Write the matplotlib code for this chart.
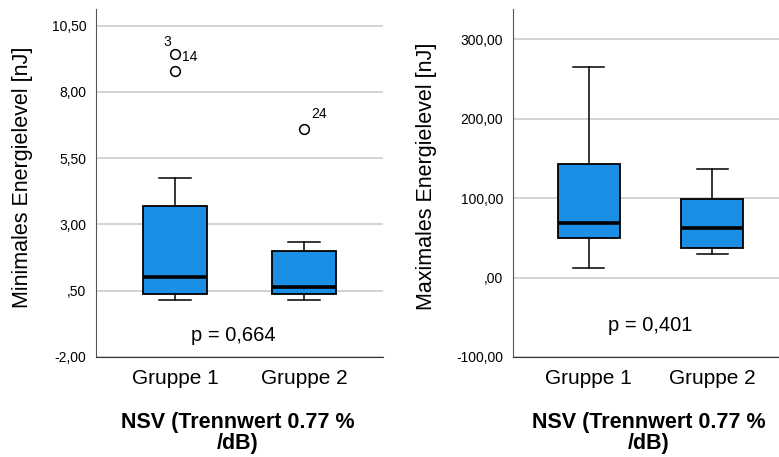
import matplotlib
matplotlib.use("Agg")
import matplotlib.pyplot as plt
from matplotlib.ticker import FixedLocator, FuncFormatter

plt.rcParams['font.family'] = ['Liberation Sans', 'DejaVu Sans']

groups = ["Gruppe 1", "Gruppe 2"]

# Minimales Energielevel [nJ]
min_whislo = [0.14, 0.14]
min_q1 = [0.37, 0.38]
min_med = [1.03, 0.65]
min_q3 = [3.70, 2.00]
min_whishi = [4.74, 2.33]
min_fliers = [[9.43, 8.78], [6.60]]
min_flier_labels = [[("3", -2.5, 9), ("14", 5, -2)], [("24", 5.5, 10.5)]]
min_ticks = [-2.0, 0.5, 3.0, 5.5, 8.0, 10.5]
min_p = "p = 0,664"

# Maximales Energielevel [nJ]
max_whislo = [11.7, 29.0]
max_q1 = [49.1, 36.9]
max_med = [68.0, 61.7]
max_q3 = [143.0, 99.0]
max_whishi = [264.5, 136.0]
max_fliers = [[], []]
max_ticks = [-100.0, 0.0, 100.0, 200.0, 300.0]
max_p = "p = 0,401"

xlabel = "NSV (Trennwert 0.77 %\n/dB)"

BOX = "#1b8ee6"
W, H = 779, 457


def de_fmt(v, pos=None):
    s = f"{v:.2f}".replace(".", ",")
    if s.startswith("0,"):
        s = s[1:]
    elif s.startswith("-0,"):
        s = "-" + s[2:]
    return s


def panel(fig, rect, whislo, q1, med, q3, whishi, fliers, ylim, ticks,
          ylabel, ylabel_xy, ptext, pxy, xlabel_x, flier_labels=None):
    l, b, r, t = rect
    ax = fig.add_axes([l / W, 1 - b / H, (r - l) / W, (b - t) / H])
    stats = []
    for i in range(len(groups)):
        stats.append(dict(whislo=whislo[i], q1=q1[i], med=med[i], q3=q3[i],
                          whishi=whishi[i], fliers=fliers[i], label=groups[i]))
    ax.bxp(stats, positions=[1, 2], widths=0.5, patch_artist=True,
           boxprops=dict(facecolor=BOX, edgecolor="black", linewidth=1.3),
           medianprops=dict(color="black", linewidth=2.6),
           whiskerprops=dict(color="black", linewidth=1.1),
           capprops=dict(color="black", linewidth=1.1),
           capwidths=0.25,
           flierprops=dict(marker="o", markerfacecolor="white",
                           markeredgecolor="black", markersize=7,
                           markeredgewidth=1.1),
           zorder=3)
    if flier_labels:
        for i, labs in enumerate(flier_labels):
            for txt, dx, dy in labs:
                ax.annotate(txt, (i + 1, fliers[i][0]), xytext=(dx, dy),
                            textcoords="offset points", fontsize=10,
                            ha="left" if dx > 0 else "right", va="center")
    ax.set_xlim(0.386, 2.614)
    ax.set_ylim(*ylim)
    ax.yaxis.set_major_locator(FixedLocator(ticks))
    ax.yaxis.set_major_formatter(FuncFormatter(de_fmt))
    ax.grid(axis="y", color="#c8c8c8", linewidth=1.1, zorder=0)
    ax.set_axisbelow(True)
    for s in ["top", "right"]:
        ax.spines[s].set_visible(False)
    ax.spines["left"].set_color("#555555")
    ax.spines["bottom"].set_color("#333333")
    ax.tick_params(axis="y", length=0, labelsize=10, pad=7)
    ax.tick_params(axis="x", length=0, labelsize=15, pad=9)
    fig.text(ylabel_xy[0] / W, 1 - ylabel_xy[1] / H, ylabel, fontsize=15.5,
             rotation=90, ha="center", va="center")
    fig.text(xlabel_x / W, 1 - 433 / H, xlabel, fontsize=15.5,
             fontweight="bold", ha="center", va="center",
             multialignment="center", linespacing=1.0)
    ax.text(pxy[0], pxy[1], ptext, fontsize=14.5, ha="center", va="center")
    return ax


fig = plt.figure(figsize=(W / 100, H / 100), dpi=100)

panel(fig, (96, 357, 383, 9), min_whislo, min_q1, min_med, min_q3, min_whishi,
      min_fliers, (-2.0, 11.13), min_ticks, "Minimales Energielevel [nJ]",
      (23, 177), min_p, (1.45, -1.17), 238, min_flier_labels)

panel(fig, (513, 357, 788, 9), max_whislo, max_q1, max_med, max_q3, max_whishi,
      max_fliers, (-100.0, 337.8), max_ticks, "Maximales Energielevel [nJ]",
      (427, 176), max_p, (1.5, -60.0), 649)

fig.savefig("out.png", dpi=100)
